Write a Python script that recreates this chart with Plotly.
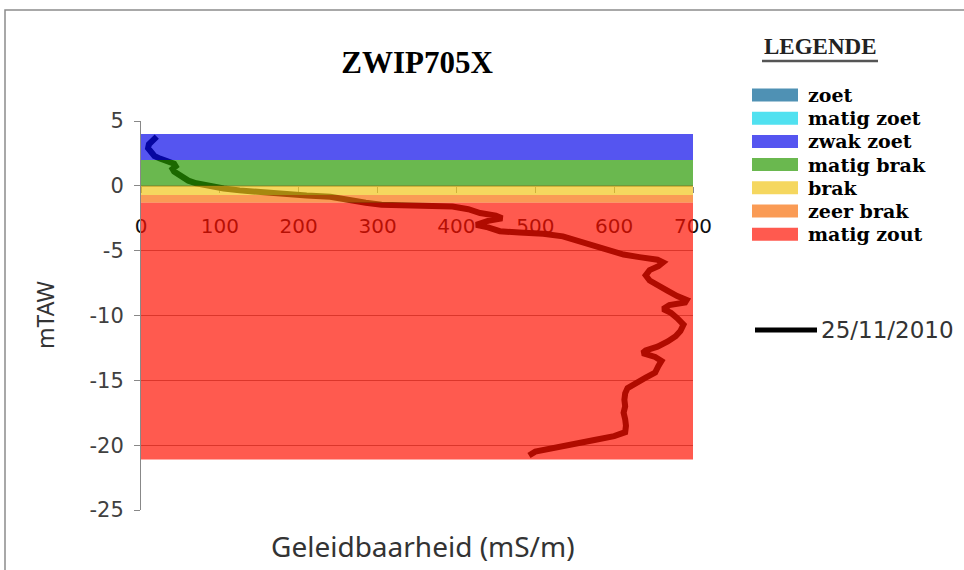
import plotly.graph_objects as go

# ---------------- data ----------------
depth = [3.8, 3.5, 3.2, 2.9, 2.6, 2.3, 2.1, 1.9, 1.7, 1.5, 1.3, 1.1, 0.9, 0.6, 0.4, 0.2, 0.0,
         -0.2, -0.35, -0.5, -0.65, -0.75, -0.85, -1.1, -1.3, -1.45, -1.5, -1.6, -1.8, -2.1,
         -2.3, -2.5, -2.7, -3.0, -3.2, -3.5, -3.6, -3.7, -3.9, -4.2, -4.6, -5.0, -5.3, -5.5,
         -5.7, -5.9, -6.2, -6.5, -6.9, -7.3, -7.7, -8.1, -8.5, -8.8, -9.0, -9.2, -9.5, -9.8,
         -10.2, -10.7, -11.2, -11.6, -12.0, -12.4, -12.7, -12.9, -13.2, -13.5, -13.9, -14.4,
         -14.8, -15.2, -15.6, -16.0, -16.5, -17.0, -17.5, -18.0, -18.5, -19.0, -19.3, -19.6,
         -19.9, -20.2, -20.5, -20.8]
conductivity = [20, 15, 10, 9, 12, 17, 24, 33, 42, 44, 40, 42, 47, 52, 60, 70, 85,
                105, 125, 150, 180, 210, 240, 262, 285, 305, 350, 395, 415, 430,
                450, 458, 440, 425, 440, 455, 480, 510, 535, 552, 570, 592, 612, 632,
                655, 662, 656, 645, 640, 645, 655, 668, 680, 692, 690, 670, 662, 672,
                680, 688, 684, 678, 668, 655, 640, 636, 652, 660, 656, 652,
                640, 630, 617, 614, 613, 614, 612, 614, 615, 614, 600, 575,
                550, 520, 500, 492]
series_label = "25/11/2010"

zone_names = ["zoet", "matig zoet", "zwak zoet", "matig brak", "brak", "zeer brak", "matig zout"]
zone_colors = ["rgba(0,96,146,0.69)", "rgba(1,212,233,0.69)", "rgba(9,9,233,0.69)",
               "rgba(39,152,0,0.69)", "rgba(240,197,23,0.69)", "rgba(248,110,9,0.69)",
               "rgba(255,16,0,0.69)"]
zone_top = [None, None, 4.0, 2.0, 0.0, -0.7, -1.3]
zone_bottom = [None, None, 2.0, 0.0, -0.7, -1.3, -21.1]
zone_x = [0, 700]

x_ticks = [0, 100, 200, 300, 400, 500, 600, 700]
y_ticks = [5, 0, -5, -10, -15, -20, -25]

title_text = "ZWIP705X"
legend_title = "LEGENDE"
x_title = "Geleidbaarheid (mS/m)"
y_title = "mTAW"

# ---------------- layout geometry (pixels) ----------------
W_FIG, H_FIG = 964, 570
L, R, T, B = 141, 693, 121, 510
PW, PH = R - L, B - T


def fx(px):
    return (px - L) / PW


def fy(py):
    return (B - py) / PH


fig = go.Figure()

# conductivity profile (black, below the translucent zone bands)
fig.add_trace(go.Scatter(x=conductivity, y=depth, mode="lines",
                         line=dict(color="black", width=6),
                         hoverinfo="skip", showlegend=False))

# translucent zone bands
for name, col, top, bot in zip(zone_names, zone_colors, zone_top, zone_bottom):
    if top is None:
        continue
    x0, x1 = zone_x
    fig.add_trace(go.Scatter(x=[x0, x1, x1, x0, x0], y=[bot, bot, top, top, bot],
                             fill="toself", fillcolor=col, mode="none",
                             name=name, hoverinfo="skip", showlegend=False))

fig.update_layout(
    width=W_FIG, height=H_FIG,
    margin=dict(l=L, r=W_FIG - R, t=T, b=H_FIG - B),
    paper_bgcolor="white", plot_bgcolor="white",
    showlegend=False,
    title=dict(text=f"<b>{title_text}</b>", x=fx(417), xref="paper", xanchor="center",
               y=1 - 62 / H_FIG, yref="container", yanchor="middle",
               font=dict(family="Liberation Serif, Times New Roman, serif", size=31, color="black")),
)

fig.update_xaxes(range=[0, 700], tickvals=x_ticks, ticktext=[str(v) for v in x_ticks],
                 anchor="free", position=fy(186), layer="below traces",
                 showgrid=False, zeroline=False, showline=True, linecolor="#888", linewidth=1,
                 ticks="outside", ticklen=6, tickcolor="#888", ticklabelstandoff=16,
                 tickfont=dict(family="DejaVu Sans", size=20, color="#111"))

fig.update_yaxes(range=[-25, 5], tickvals=y_ticks, ticktext=[str(v) for v in y_ticks],
                 showgrid=True, gridcolor="#8a8a8a", gridwidth=1, zeroline=False,
                 showline=True, linecolor="#888", linewidth=1,
                 ticks="outside", ticklen=6, tickcolor="#888", ticklabelstandoff=6,
                 tickfont=dict(family="DejaVu Sans", size=21, color="#404040"))

shapes = []
annotations = []

# outer chart border
shapes.append(dict(type="rect", xref="paper", yref="paper",
                   x0=fx(5), x1=fx(975), y0=fy(580), y1=fy(10),
                   line=dict(color="#8c8c8c", width=1.5), fillcolor="rgba(0,0,0,0)"))

# axis titles
annotations.append(dict(text=y_title, xref="paper", yref="paper", x=fx(45), y=fy(315),
                        textangle=-90, showarrow=False, xanchor="center", yanchor="middle",
                        font=dict(family="Noto Sans", size=23, color="#333")))
annotations.append(dict(text=x_title, xref="paper", yref="paper", x=fx(423), y=fy(546),
                        showarrow=False, xanchor="center", yanchor="middle",
                        font=dict(family="Noto Sans", size=28, color="#333")))

# legend
annotations.append(dict(text=f"<b>{legend_title}</b>", xref="paper", yref="paper",
                        x=fx(820), y=fy(47), showarrow=False, xanchor="center", yanchor="middle",
                        font=dict(family="Liberation Serif, serif", size=23, color="#222")))
shapes.append(dict(type="line", xref="paper", yref="paper", x0=fx(762), x1=fx(878),
                   y0=fy(61), y1=fy(61), line=dict(color="#555", width=2.5)))

row_y0, row_dy = 95, 23.2
for i, (name, col) in enumerate(zip(zone_names, zone_colors)):
    cy = row_y0 + i * row_dy
    shapes.append(dict(type="rect", xref="paper", yref="paper",
                       x0=fx(752), x1=fx(798), y0=fy(cy + 6.5), y1=fy(cy - 6.5),
                       line=dict(width=0), fillcolor=col))
    annotations.append(dict(text=f"<b>{name}</b>", xref="paper", yref="paper",
                            x=fx(806), y=fy(cy), showarrow=False, xanchor="left", yanchor="middle",
                            font=dict(family="DejaVu Serif", size=19, color="black")))

shapes.append(dict(type="line", xref="paper", yref="paper", x0=fx(755), x1=fx(817),
                   y0=fy(330), y1=fy(330), line=dict(color="black", width=5)))
annotations.append(dict(text=series_label, xref="paper", yref="paper",
                        x=fx(819), y=fy(330), showarrow=False, xanchor="left", yanchor="middle",
                        font=dict(family="DejaVu Sans", size=23, color="#333")))

fig.update_layout(shapes=shapes, annotations=annotations)

fig.write_html("out.html")
